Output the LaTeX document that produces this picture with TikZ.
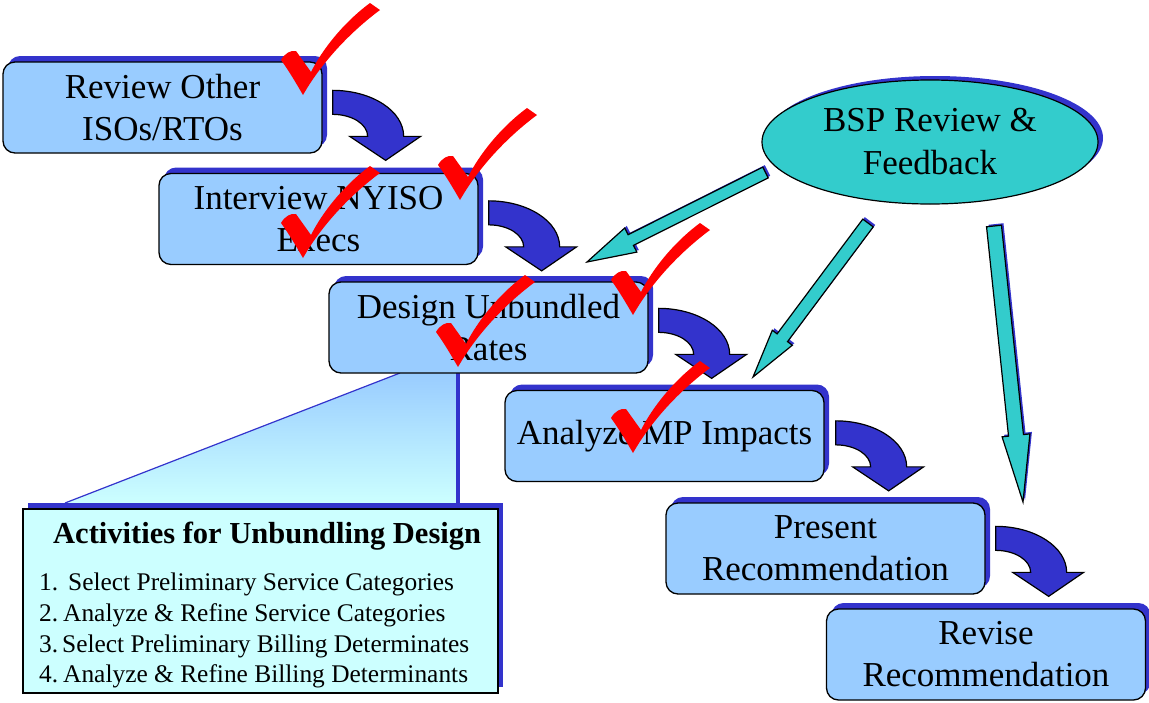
\documentclass[tikz,border=0pt]{standalone}
\usepackage{fontspec}
\setmainfont{Liberation Serif}
\usetikzlibrary{calc,shapes.geometric,shadows}
\definecolor{boxblue}{HTML}{99CCFF}
\definecolor{darkblue}{HTML}{3333CC}
\definecolor{tealc}{HTML}{33CCCC}
\definecolor{paleteal}{HTML}{CCFFFF}
\definecolor{checkred}{HTML}{FF0000}
\newcommand\bendarrow[1]{%
  \begin{scope}[shift={(#1)}]
    \draw[fill=darkblue, line width=1.2pt, line join=miter]
      (0,0) .. controls (39.2,0) and (71,20.6) .. (71,46) -- (88,46) -- (53,70)
      -- (17,46) -- (35,46) .. controls (35,33.8) and (19.3,24) .. (0,24) -- cycle;
  \end{scope}}
\newcommand\redcheck[1]{%
  \begin{scope}[shift={(#1)}]
    \fill[checkred] (0,0) .. controls (-7,-12) and (-14,-24) .. (-22,-35)
      .. controls (-18,-42) and (-12,-45) .. (-7,-44)
      .. controls (-2,-37) and (3,-30) .. (8,-23)
      .. controls (19,-45) and (40,-72) .. (67,-92) -- (77,-85)
      .. controls (50,-65) and (20,-35) .. (0,0) -- cycle;
  \end{scope}}
% #1 tail, #2 tip, #3 shaft half width, #4 head half width, #5 head length
\newcommand\tealarrow[5]{%
  \path ($(#2)!#5!(#1)$) coordinate (hb);
  \path ($(#1)!#3!90:(#2)$) coordinate (t1) ($(#1)!#3!-90:(#2)$) coordinate (t2)
        ($(hb)!#3!90:(#2)$) coordinate (s1) ($(hb)!#3!-90:(#2)$) coordinate (s2)
        ($(hb)!#4!90:(#2)$) coordinate (h1) ($(hb)!#4!-90:(#2)$) coordinate (h2);
  \fill[darkblue] ($(t1)+(2,-2)$) -- ($(s1)+(2,-2)$) -- ($(h1)+(2,-2)$) -- ($(#2)+(2,-2)$)
        -- ($(h2)+(2,-2)$) -- ($(s2)+(2,-2)$) -- ($(t2)+(2,-2)$) -- cycle;
  \draw[fill=tealc, line width=1.2pt, line join=miter]
        (t1) -- (s1) -- (h1) -- (#2) -- (h2) -- (s2) -- (t2) -- cycle;}
\begin{document}
\begin{tikzpicture}[x=1pt, y=-1pt,
  stepbox/.style={rectangle, rounded corners=12pt, draw=black, line width=1.3pt,
    fill=boxblue, minimum width=319pt, minimum height=91pt, inner sep=0pt,
    align=center, font=\fontsize{35}{42}\selectfont,
    general shadow={fill=darkblue, shadow xshift=5pt, shadow yshift=6pt}},
  itemtext/.style={anchor=base west, inner sep=0pt, font=\fontsize{25.4}{30}\selectfont}]
\useasboundingbox (0,0) rectangle (1149,702);

% callout from Design box to activities box
\coordinate (cl) at (400,373);
\coordinate (cr) at (458,373);
\coordinate (bl) at (65,503);
\coordinate (br) at (458,503);
\path[top color=boxblue, bottom color=paleteal] (cl) -- (cr) -- (br) -- (bl) -- cycle;
\draw[darkblue, line width=1.2pt] (cl) -- (bl);
\draw[darkblue, line width=4pt] (cr) -- (br);

% activities box
\node[rectangle, draw=black, line width=1.5pt, fill=paleteal, minimum width=475pt,
  minimum height=184pt, inner sep=0pt,
  general shadow={fill=darkblue, shadow xshift=5pt, shadow yshift=6pt}] (act) at (260.5,601) {};
\node[anchor=base west, inner sep=0pt, font=\fontsize{30.5}{36}\selectfont\bfseries]
  (acttitle) at (53,543) {Activities for Unbundling Design};
\node[itemtext] (n1) at (39,590) {1.};
\node[itemtext] (i1) at (68,590) {Select Preliminary Service Categories};
\node[itemtext] (n2) at (39,621) {2.};
\node[itemtext] (i2) at (63,621) {Analyze \& Refine Service Categories};
\node[itemtext] (n3) at (39,652) {3.};
\node[itemtext] (i3) at (62,652) {Select Preliminary Billing Determinates};
\node[itemtext] (n4) at (39,682) {4.};
\node[itemtext] (i4) at (63,682) {Analyze \& Refine Billing Determinants};

% step boxes
\node[stepbox] (b1) at (162.5,107.5) {Review Other\\ISOs/RTOs};
\node[stepbox] (b2) at (318.5,219) {Interview NYISO\\Execs};
\node[stepbox] (b3) at (488.5,327.5) {Design Unbundled\\Rates};
\node[stepbox] (b4) at (664.5,436) {Analyze MP Impacts};
\node[stepbox] (b5) at (825.5,548.5) {Present\\Recommendation};
\node[stepbox] (b6) at (986,654.5) {Revise\\Recommendation};

% BSP ellipse
\node[ellipse, draw=black, line width=1.2pt, fill=tealc, minimum width=336pt,
  minimum height=124pt, inner sep=0pt, align=center, font=\fontsize{35}{43}\selectfont,
  general shadow={fill=darkblue, shadow xshift=5pt, shadow yshift=4pt}]
  (bsp) at (930,142) {BSP Review \&\\Feedback};

% curved step arrows
\bendarrow{$(b1.north east)+(10,29)$}
\bendarrow{$(b2.north east)+(10,28)$}
\bendarrow{$(b3.north east)+(10,27)$}
\bendarrow{$(b4.north east)+(11,31)$}
\bendarrow{$(b5.north east)+(10,24)$}

% feedback arrows
\coordinate (ta) at (765.5,172.5);
\coordinate (pa) at (587,262);
\coordinate (tb) at (868,223);
\coordinate (pb) at (753,377);
\coordinate (tc) at (994,226);
\coordinate (pc) at (1023,502);
\tealarrow{ta}{pa}{6pt}{13.5pt}{49pt}
\tealarrow{tb}{pb}{6.5pt}{12.5pt}{49pt}
\tealarrow{tc}{pc}{7.5pt}{14pt}{67pt}

% check marks
\redcheck{303,95}
\redcheck{460,200}
\redcheck{303,258}
\redcheck{633,315}
\redcheck{458,367}
\redcheck{633,453}
\end{tikzpicture}
\end{document}
